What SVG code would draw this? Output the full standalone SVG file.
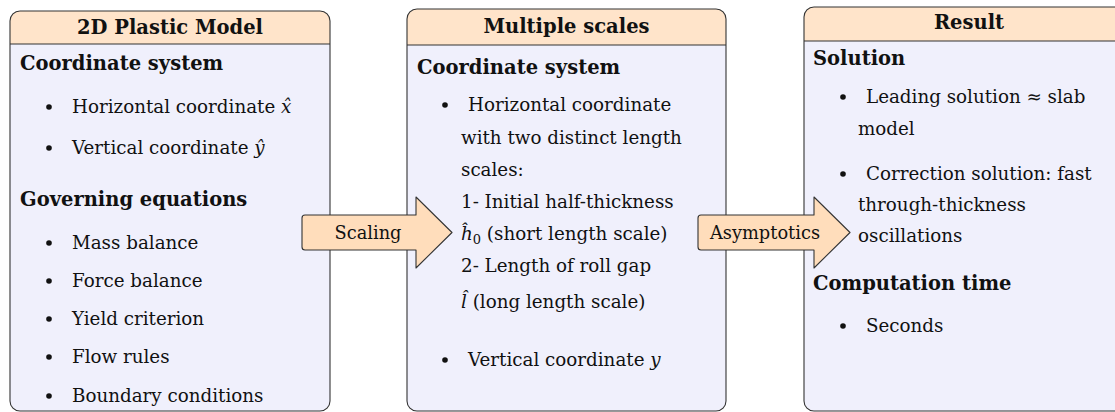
<svg xmlns="http://www.w3.org/2000/svg" width="1115" height="412" viewBox="0 0 1115 412">
<style>
.body{fill:#F0F0FC;stroke:none}
.head{fill:#FFE4CA;stroke:none}
.outline{fill:none;stroke:#333;stroke-width:1.1}
.sep{stroke:#333;stroke-width:1.1}
.t{font-family:"DejaVu Serif",serif;font-size:18.3px;fill:#111}
.b{font-family:"DejaVu Serif",serif;font-weight:bold;font-size:19.5px;fill:#111}
.ttl{text-anchor:middle}
.i{font-style:italic}
.bul{fill:#111}
.arrow{fill:#FFDDBB;stroke:#333;stroke-width:1.1;stroke-linejoin:round}
.lbl{font-family:"DejaVu Serif",serif;font-size:17.8px;fill:#111;text-anchor:middle}
</style>

<g id="node-plastic">
  <rect class="body" x="10" y="11" width="320" height="400" rx="10"/>
  <path class="head" d="M10,44 V21 A10,10 0 0 1 20,11 H320 A10,10 0 0 1 330,21 V44 Z"/>
  <line class="sep" x1="10" y1="44" x2="330" y2="44"/>
  <rect class="outline" x="10" y="11" width="320" height="400" rx="10"/>
  <text class="b ttl" x="170" y="34">2D Plastic Model</text>
  <text class="b" x="20" y="70">Coordinate system</text>
  <circle class="bul" cx="49" cy="107" r="2.8"/>
  <text class="t" x="72" y="113">Horizontal coordinate <tspan class="i">x̂</tspan></text>
  <circle class="bul" cx="49" cy="148" r="2.8"/>
  <text class="t" x="72" y="154">Vertical coordinate <tspan class="i">ŷ</tspan></text>
  <text class="b" x="20" y="206">Governing equations</text>
  <circle class="bul" cx="49" cy="243" r="2.8"/>
  <text class="t" x="72" y="249">Mass balance</text>
  <circle class="bul" cx="49" cy="281" r="2.8"/>
  <text class="t" x="72" y="287">Force balance</text>
  <circle class="bul" cx="49" cy="319" r="2.8"/>
  <text class="t" x="72" y="325">Yield criterion</text>
  <circle class="bul" cx="49" cy="357" r="2.8"/>
  <text class="t" x="72" y="363">Flow rules</text>
  <circle class="bul" cx="49" cy="396" r="2.8"/>
  <text class="t" x="72" y="402">Boundary conditions</text>
</g>

<g id="node-multiscale">
  <rect class="body" x="407" y="9" width="319" height="402" rx="10"/>
  <path class="head" d="M407,45 V19 A10,10 0 0 1 417,9 H716 A10,10 0 0 1 726,19 V45 Z"/>
  <line class="sep" x1="407" y1="45" x2="726" y2="45"/>
  <rect class="outline" x="407" y="9" width="319" height="402" rx="10"/>
  <text class="b ttl" x="566.5" y="33">Multiple scales</text>
  <text class="b" x="417" y="74">Coordinate system</text>
  <circle class="bul" cx="445" cy="105" r="2.8"/>
  <text class="t" x="468" y="111">Horizontal coordinate</text>
  <text class="t" x="461" y="144">with two distinct length</text>
  <text class="t" x="461" y="176">scales:</text>
  <text class="t" x="461" y="208">1- Initial half-thickness</text>
  <text class="t" x="461" y="240"><tspan class="i">ĥ</tspan><tspan font-size="13" dy="4">0</tspan><tspan dy="-4"> (short length scale)</tspan></text>
  <text class="t" x="461" y="272">2- Length of roll gap</text>
  <text class="t" x="461" y="308"><tspan class="i">l̂</tspan> (long length scale)</text>
  <circle class="bul" cx="445" cy="360" r="2.8"/>
  <text class="t" x="468" y="366">Vertical coordinate <tspan class="i">y</tspan></text>
</g>

<g id="node-result">
  <rect class="body" x="804" y="7" width="330" height="404" rx="10"/>
  <path class="head" d="M804,41 V17 A10,10 0 0 1 814,7 H1124 A10,10 0 0 1 1134,17 V41 Z"/>
  <line class="sep" x1="804" y1="41" x2="1134" y2="41"/>
  <rect class="outline" x="804" y="7" width="330" height="404" rx="10"/>
  <text class="b ttl" x="969" y="29">Result</text>
  <text class="b" x="813" y="65">Solution</text>
  <circle class="bul" cx="843" cy="97" r="2.8"/>
  <text class="t" x="866" y="103">Leading solution ≈ slab</text>
  <text class="t" x="858" y="135">model</text>
  <circle class="bul" cx="843" cy="174" r="2.8"/>
  <text class="t" x="866" y="180">Correction solution: fast</text>
  <text class="t" x="858" y="211">through-thickness</text>
  <text class="t" x="858" y="242">oscillations</text>
  <text class="b" x="813" y="290">Computation time</text>
  <circle class="bul" cx="843" cy="326" r="2.8"/>
  <text class="t" x="866" y="332">Seconds</text>
</g>

<g id="connectors">
  <g id="edge-scaling">
    <path class="arrow" d="M305,215 H416 V197 L452,232.5 L416,268 V250 H305 Q302,250 302,247 V218 Q302,215 305,215 Z"/>
    <text class="lbl" x="368" y="239">Scaling</text>
  </g>
  <g id="edge-asymptotics">
    <path class="arrow" d="M701,215 H814 V197 L850,232.5 L814,268 V250 H701 Q698,250 698,247 V218 Q698,215 701,215 Z"/>
    <text class="lbl" x="765" y="239">Asymptotics</text>
  </g>
</g>
</svg>
